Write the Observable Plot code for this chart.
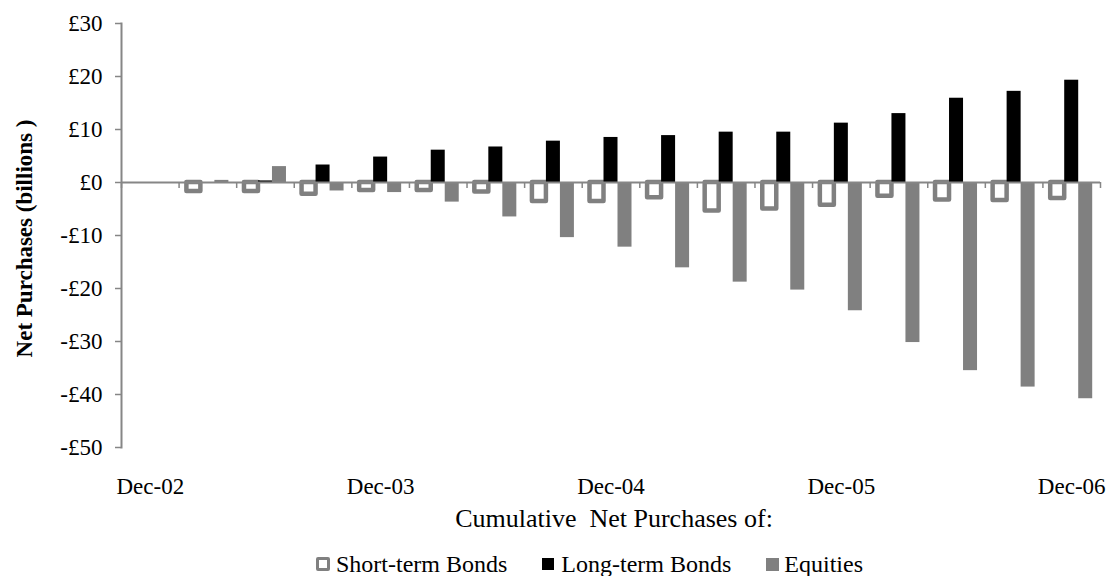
<!DOCTYPE html>
<html><head><meta charset="utf-8">
<script src="https://cdn.jsdelivr.net/npm/d3@7"></script>
<script src="https://cdn.jsdelivr.net/npm/@observablehq/plot@0.6"></script>
<style>
body{margin:0;background:#fff;}
#chart{position:relative;width:1109px;height:576px;font-family:"Liberation Serif","Times New Roman",serif;color:#000;overflow:hidden;}
#chart svg{position:absolute;left:0;top:0;}
#xtitle{position:absolute;top:506px;left:614px;transform:translateX(-50%);font-size:26px;line-height:26px;white-space:pre;}
#legend{position:absolute;top:552px;left:316px;display:flex;align-items:center;font-size:24px;line-height:24px;white-space:pre;}
.sw{display:inline-block;box-sizing:border-box;}
</style></head><body>
<div id="chart"><div id="xtitle"></div><div id="legend"></div></div>
<script>
const quarters = ["Dec-02","Mar-03","Jun-03","Sep-03","Dec-03","Mar-04","Jun-04","Sep-04","Dec-04","Mar-05","Jun-05","Sep-05","Dec-05","Mar-06","Jun-06","Sep-06","Dec-06"];
const shortTerm = [null,-1.7,-1.7,-2.2,-1.5,-1.5,-1.8,-3.6,-3.6,-2.9,-5.4,-5.0,-4.3,-2.6,-3.3,-3.4,-3.0];
const longTerm  = [null,0,0.3,3.3,4.8,6.1,6.7,7.8,8.5,8.85,9.5,9.5,11.2,13.0,15.9,17.2,19.3];
const equities  = [null,0.4,3.0,-1.6,-1.9,-3.7,-6.5,-10.4,-12.2,-16.1,-18.8,-20.3,-24.2,-30.2,-35.5,-38.6,-40.8];
const seriesNames = ["Short-term Bonds","Long-term Bonds","Equities"];
const yTicks = [30,20,10,0,-10,-20,-30,-40,-50];
const xTickLabels = ["Dec-02","Dec-03","Dec-04","Dec-05","Dec-06"];
const yTitle = "Net Purchases (billions )";
const xTitle = "Cumulative  Net Purchases of:";

const W = 1109, H = 500, ML = 121, MR = 9, MT = 23, MB = 53;
const bw = (W - ML - MR) / quarters.length;
const barW = 14;
const pad = (bw - 3 * barW) / 2;
const gray = "#808080", axisGray = "#868686";
const serif = "\"Liberation Serif\",\"Times New Roman\",serif";

const valuesBySeries = [shortTerm, longTerm, equities];
const rows = quarters.flatMap((q, i) => seriesNames.map((s, k) => ({q, series: s, v: valuesBySeries[k][i]})))
  .filter(d => d.v != null);
const of = s => rows.filter(d => d.series === s);
const money = d => d < 0 ? `-£${-d}` : `£${d}`;

const plot = Plot.plot({
  width: W, height: H,
  marginLeft: ML, marginRight: MR, marginTop: MT, marginBottom: MB,
  style: {fontFamily: serif, fontSize: "23px", color: "#000", background: "transparent", overflow: "visible"},
  x: {type: "band", domain: quarters, padding: 0, round: false},
  y: {domain: [-50, 30]},
  marks: [
    Plot.barY(of(seriesNames[0]), {x: "q", y: "v", fill: "white", stroke: gray, strokeWidth: 4.5, strokeLinejoin: "round",
      insetLeft: pad, insetRight: bw - pad - barW}),
    Plot.barY(of(seriesNames[1]), {x: "q", y: "v", fill: "#000",
      insetLeft: pad + barW, insetRight: pad + barW}),
    Plot.barY(of(seriesNames[2]), {x: "q", y: "v", fill: gray,
      insetLeft: pad + 2 * barW, insetRight: pad}),
    Plot.ruleY([0], {stroke: axisGray, strokeWidth: 2}),
    Plot.ruleX(quarters, {x: d => d, y1: 0, y2: 0, insetBottom: -6, dx: -bw / 2, stroke: axisGray, strokeWidth: 1.5}),
    Plot.ruleX([quarters[quarters.length - 1]], {x: d => d, y1: 0, y2: 0, insetBottom: -6, dx: bw / 2, stroke: axisGray, strokeWidth: 1.5}),
    Plot.frame({anchor: "left", stroke: axisGray, strokeWidth: 2}),
    Plot.axisY({ticks: yTicks, tickFormat: money, tickSize: 6, tickPadding: 13, stroke: axisGray, strokeWidth: 1.5, strokeOpacity: 1, label: null, fontSize: 23, fontFamily: serif}),
    Plot.axisX({ticks: xTickLabels, tickSize: 0, tickPadding: 30, label: null, fontSize: 23, fontFamily: serif}),
    Plot.text([yTitle], {frameAnchor: "left", text: d => d, rotate: -90, textAnchor: "middle", lineAnchor: "middle", dx: -97, dy: 3, fontWeight: "bold", fontSize: 23, fontFamily: serif})
  ]
});
const chart = document.getElementById("chart");
chart.insertBefore(plot, chart.firstChild);

document.getElementById("xtitle").textContent = xTitle;
const legend = document.getElementById("legend");
const swatchStyles = [
  {w: 14, css: `background:#fff;border:3.5px solid ${gray};border-radius:2px;`, gap: 6},
  {w: 12, css: `background:#000;`, gap: 7},
  {w: 13, css: `background:${gray};`, gap: 5}
];
seriesNames.forEach((name, k) => {
  const sw = document.createElement("span");
  sw.className = "sw";
  sw.style.cssText = `width:${swatchStyles[k].w}px;height:${swatchStyles[k].w}px;margin-right:${swatchStyles[k].gap}px;${swatchStyles[k].css}`;
  const t = document.createElement("span");
  t.textContent = name;
  if (k < seriesNames.length - 1) t.style.marginRight = "35px";
  legend.appendChild(sw);
  legend.appendChild(t);
});
</script>
</body></html>
